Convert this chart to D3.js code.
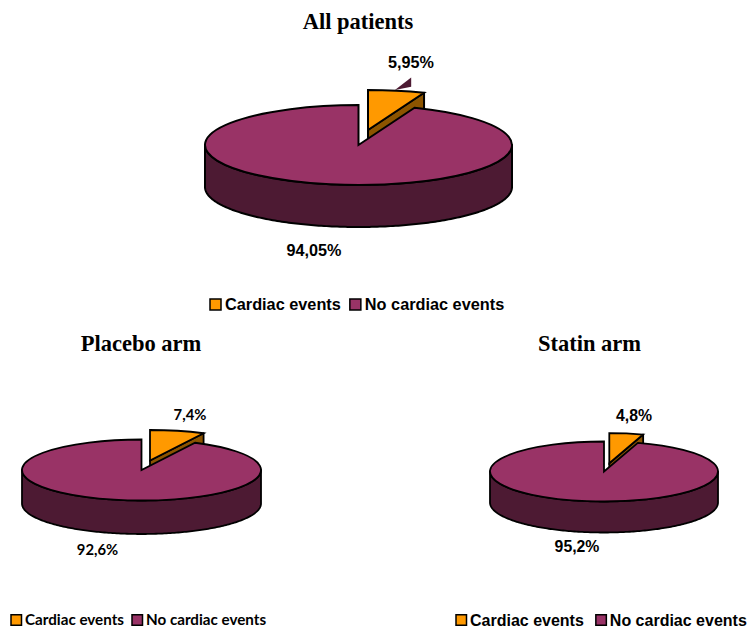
<!DOCTYPE html>
<html>
<head>
<meta charset="utf-8">
<script src="https://cdn.jsdelivr.net/npm/d3@7"></script>
<style>
  html, body { margin: 0; padding: 0; background: #fff; overflow: hidden; }
  svg { display: block; }
  .wedge { vector-effect: non-scaling-stroke; }
</style>
</head>
<body>
<script>
// Cardiac event rates, in percent, for each study group
const groupNames = ["All patients", "Placebo arm", "Statin arm"];
const cardiacEvents = [5.95, 7.4, 4.8];
const noCardiacEvents = [94.05, 92.6, 95.2];
const seriesNames = ["Cardiac events", "No cardiac events"];

const topColors = ["#FF9900", "#993366"];
const sideColors = ["#8C5400", "#4D1A33"];

// Layout of each pie panel
const panels = [
  { cx: 358.5, cy: 145, rx: 153.5, ry: 40, depth: 42, dx: 9.5, dy: -15, sw: 2,
    titleX: 358, titleY: 29, titleSize: 22.5,
    font: "'Liberation Sans'", labelSize: 16.2,
    cardiacLabel: [411, 68], otherLabel: [314, 256],
    legendX: 210, legendY: 304.5, legendSize: 16.3, swatch: 11, legendGap: 4, itemGap: 9 },
  { cx: 141.5, cy: 470, rx: 119.5, ry: 30.5, depth: 33.5, dx: 8.5, dy: -9.5, sw: 1.8,
    titleX: 141, titleY: 351, titleSize: 22.5,
    font: "Lato", labelSize: 14.8,
    cardiacLabel: [190, 420], otherLabel: [97.5, 555],
    legendX: 11, legendY: 620, legendSize: 15.2, swatch: 10.5, legendGap: 3.5, itemGap: 8 },
  { cx: 604, cy: 471.5, rx: 114, ry: 30, depth: 31, dx: 5.3, dy: -8.3, sw: 1.8,
    titleX: 589.5, titleY: 351, titleSize: 22.5,
    font: "'Liberation Sans'", labelSize: 15.8,
    cardiacLabel: [634, 421], otherLabel: [577, 552],
    legendX: 456, legendY: 620, legendSize: 16, swatch: 10.5, legendGap: 3.5, itemGap: 12 }
];

const svg = d3.select("body").append("svg")
  .attr("width", 748)
  .attr("height", 629);

const pie = d3.pie().sort(null);

// Elliptical rim point for an angle measured clockwise from twelve o'clock
const rim = (p, a) => [p.rx * Math.sin(a), -p.ry * Math.cos(a)];

const outerWall = d3.line();

groupNames.forEach((name, i) => {
  const p = panels[i];
  const values = [cardiacEvents[i], noCardiacEvents[i]];
  const arcs = pie(values);
  const arc = d3.arc().innerRadius(0).outerRadius(p.rx);

  const g = svg.append("g");

  // Exploded wedge: its side wall sits behind the main disc
  const slice = g.append("g").attr("transform", `translate(${p.cx + p.dx},${p.cy + p.dy})`);
  const end = rim(p, arcs[0].endAngle);

  if (i === 0) {
    // Sliver of dark wall that pokes out above the exploded wedge
    slice.append("path")
      .attr("d", outerWall([
        [end[0] * 0.48, -p.ry],
        [end[0] * 0.77, -p.ry * 1.31],
        [end[0] * 0.77, -p.ry * 1.08]
      ]) + "Z")
      .attr("fill", sideColors[1]);
  }

  slice.append("path")
    .attr("d", outerWall([[0, 0], end, [end[0], end[1] + p.depth], [0, p.depth]]) + "Z")
    .attr("fill", sideColors[0])
    .attr("stroke", "#000")
    .attr("stroke-width", p.sw)
    .attr("stroke-linejoin", "round");

  slice.append("path")
    .attr("class", "wedge")
    .attr("transform", `scale(1,${p.ry / p.rx})`)
    .attr("d", arc(arcs[0]))
    .attr("fill", topColors[0])
    .attr("stroke", "#000")
    .attr("stroke-width", p.sw)
    .attr("stroke-linejoin", "miter");

  // Main disc: lower wall first, then the top face
  const disc = g.append("g").attr("transform", `translate(${p.cx},${p.cy})`);
  const lower = d3.range(90, 270.5, 1).map(d => rim(p, d * Math.PI / 180));
  const wall = lower.concat(lower.slice().reverse().map(q => [q[0], q[1] + p.depth]));
  disc.append("path")
    .attr("d", outerWall(wall) + "Z")
    .attr("fill", sideColors[1])
    .attr("stroke", "#000")
    .attr("stroke-width", p.sw)
    .attr("stroke-linejoin", "round");

  disc.append("path")
    .attr("class", "wedge")
    .attr("transform", `scale(1,${p.ry / p.rx})`)
    .attr("d", arc(arcs[1]))
    .attr("fill", topColors[1])
    .attr("stroke", "#000")
    .attr("stroke-width", p.sw)
    .attr("stroke-linejoin", "miter");

  // Title
  svg.append("text")
    .attr("x", p.titleX)
    .attr("y", p.titleY)
    .attr("text-anchor", "middle")
    .attr("font-family", "'Liberation Serif'")
    .attr("font-weight", "bold")
    .attr("font-size", p.titleSize)
    .text(name);

  // Value labels use a decimal comma
  const fmt = v => String(v).replace(".", ",") + "%";
  [p.cardiacLabel, p.otherLabel].forEach((pos, k) => {
    svg.append("text")
      .attr("x", pos[0])
      .attr("y", pos[1])
      .attr("text-anchor", "middle")
      .attr("font-family", p.font)
      .attr("font-weight", "bold")
      .attr("font-size", p.labelSize)
      .attr("fill", "#000")
      .text(fmt(values[k]));
  });

  // Legend laid out from measured text widths
  let x = p.legendX;
  seriesNames.forEach((label, k) => {
    svg.append("rect")
      .attr("x", x)
      .attr("y", p.legendY - p.swatch / 2)
      .attr("width", p.swatch)
      .attr("height", p.swatch)
      .attr("fill", topColors[k])
      .attr("stroke", "#000")
      .attr("stroke-width", 1.5);
    const t = svg.append("text")
      .attr("x", x + p.swatch + p.legendGap)
      .attr("y", p.legendY + p.legendSize * 0.35)
      .attr("font-family", p.font)
      .attr("font-weight", "bold")
      .attr("font-size", p.legendSize)
      .text(label);
    x += p.swatch + p.legendGap + t.node().getComputedTextLength() + p.itemGap;
  });
});
</script>
</body>
</html>
